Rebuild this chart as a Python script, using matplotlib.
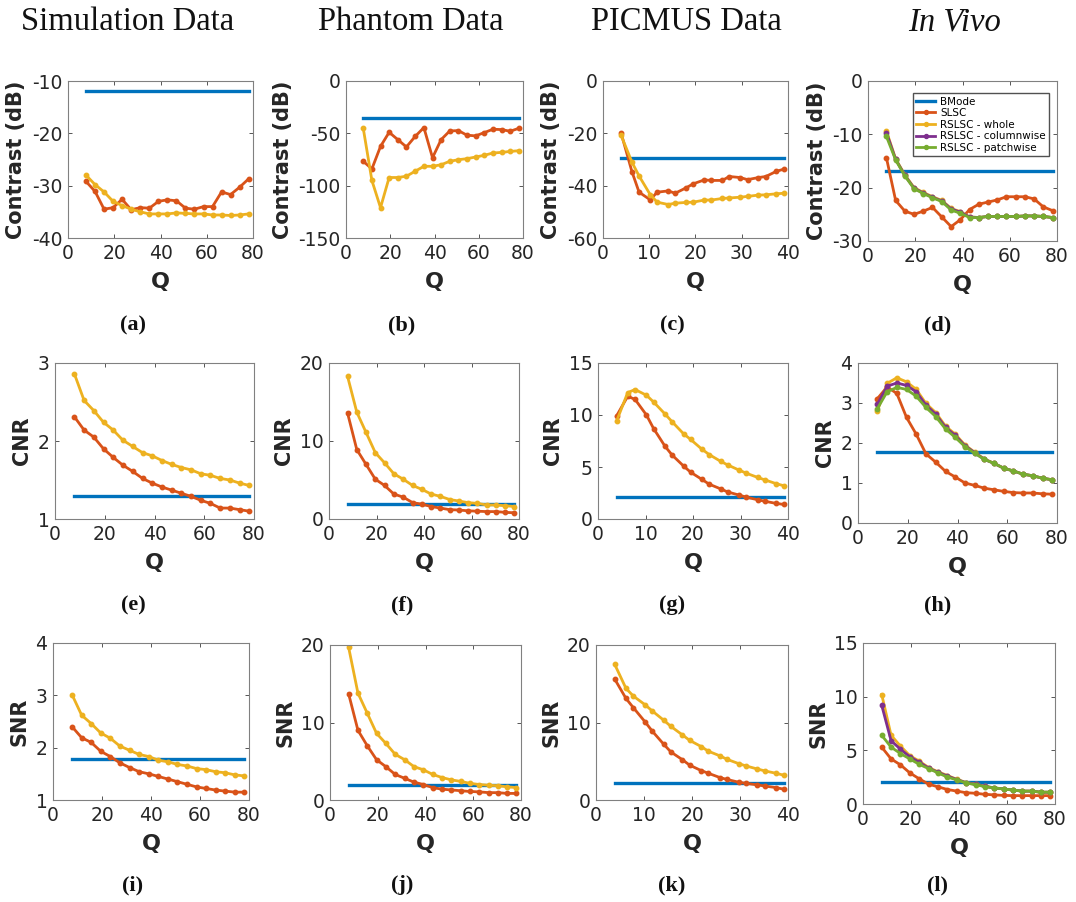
import matplotlib
matplotlib.use("Agg")
import matplotlib.pyplot as plt

plt.rcParams["axes.unicode_minus"] = False

# ---------------- data ----------------
q80 = [7.8, 11.7, 15.6, 19.5, 23.4, 27.3, 31.25, 35.2, 39.1, 43.0, 46.9, 50.8,
       54.7, 58.6, 62.5, 66.4, 70.3, 74.2, 78.1]
q40 = [3.9, 6.25, 7.8, 10.2, 11.7, 14.1, 15.6, 18.0, 19.5, 21.9, 23.4, 25.8,
       27.3, 29.7, 31.25, 33.6, 35.2, 37.5, 39.1]

# Contrast (dB)
sim_con_bmode = -12.0
sim_con_slsc = [-29.2, -31.1, -34.5, -34.2, -32.6, -34.6, -34.2, -34.3, -33.0, -32.7,
                -32.9, -34.3, -34.5, -34.0, -34.0, -31.2, -31.7, -30.3, -28.7]
sim_con_whole = [-28.0, -29.8, -31.2, -33.0, -33.8, -34.5, -35.0, -35.4, -35.4, -35.4,
                 -35.2, -35.3, -35.4, -35.4, -35.6, -35.6, -35.7, -35.6, -35.4]

pha_con_bmode = -35.0
pha_con_slsc = [-76.7, -84.0, -62.5, -49.0, -56.0, -63.0, -53.0, -44.5, -73.3, -56.0,
                -47.7, -47.4, -51.8, -52.4, -49.3, -46.1, -46.4, -48.0, -45.2]
pha_con_whole = [-45.2, -95.0, -121.0, -92.2, -92.2, -91.0, -86.2, -81.5, -81.5, -80.0,
                 -76.7, -75.2, -74.2, -72.6, -71.0, -68.8, -68.2, -67.3, -66.6]

pic_con_bmode = -29.4
pic_con_slsc = [-19.8, -34.6, -42.5, -45.4, -42.5, -42.0, -42.9, -40.8, -39.3, -37.8,
                -38.0, -38.0, -36.5, -36.9, -37.7, -36.9, -36.5, -34.5, -33.7]
pic_con_whole = [-20.7, -31.0, -36.3, -43.4, -46.3, -47.2, -46.7, -46.4, -46.3, -45.5,
                 -45.5, -44.9, -44.7, -44.4, -44.1, -43.6, -43.5, -43.1, -42.9]

viv_con_bmode = -16.8
viv_con_slsc = [-14.4, -22.4, -24.4, -25.0, -24.4, -23.7, -25.5, -27.3, -26.0, -24.1,
                -23.1, -22.7, -22.3, -21.7, -21.7, -21.7, -22.1, -23.6, -24.3]
viv_con_whole = [-9.4, -14.6, -17.6, -20.0, -20.9, -21.7, -22.4, -23.9, -24.5, -25.5,
                 -25.6, -25.4, -25.4, -25.4, -25.4, -25.3, -25.3, -25.4, -25.6]
viv_con_column = [-9.7, -14.7, -17.7, -20.1, -21.0, -21.8, -22.5, -24.0, -24.6, -25.5,
                  -25.6, -25.4, -25.4, -25.4, -25.4, -25.3, -25.3, -25.4, -25.6]
viv_con_patch = [-10.4, -14.8, -17.8, -20.2, -21.1, -21.9, -22.6, -24.2, -24.8, -25.6,
                 -25.6, -25.4, -25.4, -25.4, -25.4, -25.3, -25.3, -25.4, -25.6]

# CNR
sim_cnr_bmode = 1.30
sim_cnr_slsc = [2.31, 2.14, 2.05, 1.90, 1.79, 1.69, 1.61, 1.52, 1.46, 1.41,
                1.37, 1.33, 1.29, 1.24, 1.20, 1.14, 1.14, 1.12, 1.10]
sim_cnr_whole = [2.86, 2.52, 2.39, 2.24, 2.14, 2.01, 1.93, 1.85, 1.81, 1.75,
                 1.70, 1.66, 1.63, 1.58, 1.56, 1.52, 1.50, 1.46, 1.43]

pha_cnr_bmode = 1.9
pha_cnr_slsc = [13.6, 8.9, 7.0, 5.1, 4.3, 3.2, 2.8, 2.1, 1.9, 1.6,
                1.4, 1.2, 1.15, 1.05, 1.0, 0.95, 0.95, 0.85, 0.8]
pha_cnr_whole = [18.3, 13.7, 11.1, 8.5, 7.2, 5.8, 5.1, 4.3, 3.8, 3.2,
                 2.9, 2.5, 2.3, 2.1, 2.0, 1.8, 1.8, 1.7, 1.6]

pic_cnr_bmode = 2.08
pic_cnr_slsc = [9.9, 11.8, 11.5, 10.0, 8.7, 7.0, 6.15, 5.1, 4.5, 3.8,
                3.35, 2.9, 2.6, 2.3, 2.1, 1.85, 1.7, 1.5, 1.4]
pic_cnr_whole = [9.4, 12.15, 12.45, 11.9, 11.25, 10.1, 9.35, 8.2, 7.65, 6.7,
                 6.2, 5.55, 5.2, 4.7, 4.4, 4.0, 3.75, 3.4, 3.2]

viv_cnr_bmode = 1.78
viv_cnr_slsc = [3.11, 3.40, 3.24, 2.64, 2.22, 1.73, 1.52, 1.29, 1.15, 1.00,
                0.94, 0.87, 0.83, 0.79, 0.76, 0.75, 0.75, 0.73, 0.72]
viv_cnr_whole = [2.80, 3.49, 3.63, 3.53, 3.34, 2.99, 2.76, 2.42, 2.22, 1.95,
                 1.77, 1.60, 1.49, 1.37, 1.30, 1.22, 1.18, 1.12, 1.08]
viv_cnr_column = [2.97, 3.42, 3.50, 3.44, 3.28, 2.95, 2.72, 2.39, 2.19, 1.93,
                  1.76, 1.59, 1.49, 1.37, 1.30, 1.22, 1.18, 1.12, 1.08]
viv_cnr_patch = [2.86, 3.28, 3.39, 3.34, 3.17, 2.89, 2.66, 2.35, 2.14, 1.91,
                 1.74, 1.59, 1.49, 1.37, 1.30, 1.22, 1.18, 1.12, 1.08]

# SNR
sim_snr_bmode = 1.775
sim_snr_slsc = [2.40, 2.19, 2.10, 1.93, 1.83, 1.71, 1.62, 1.54, 1.50, 1.45,
                1.40, 1.35, 1.30, 1.25, 1.22, 1.19, 1.17, 1.15, 1.15]
sim_snr_whole = [3.01, 2.62, 2.46, 2.28, 2.18, 2.03, 1.95, 1.87, 1.83, 1.76,
                 1.73, 1.68, 1.65, 1.60, 1.58, 1.54, 1.52, 1.48, 1.46]

pha_snr_bmode = 1.94
pha_snr_slsc = [13.7, 9.0, 7.0, 5.2, 4.3, 3.3, 2.8, 2.3, 2.0, 1.6,
                1.4, 1.3, 1.2, 1.1, 1.05, 0.95, 0.95, 0.85, 0.85]
pha_snr_whole = [19.7, 13.8, 11.2, 8.6, 7.3, 5.9, 5.2, 4.3, 3.9, 3.3,
                 2.9, 2.6, 2.4, 2.15, 2.0, 1.9, 1.85, 1.7, 1.6]

pic_snr_bmode = 2.15
pic_snr_slsc = [15.6, 13.1, 11.9, 10.1, 8.9, 7.2, 6.2, 5.2, 4.5, 3.8,
                3.45, 2.9, 2.65, 2.3, 2.15, 1.95, 1.8, 1.6, 1.4]
pic_snr_whole = [17.5, 14.4, 13.4, 12.3, 11.5, 10.3, 9.5, 8.4, 7.7, 6.9,
                 6.3, 5.7, 5.25, 4.7, 4.4, 4.0, 3.75, 3.45, 3.2]

viv_snr_bmode = 2.04
viv_snr_slsc = [5.3, 4.2, 3.65, 2.9, 2.35, 1.85, 1.6, 1.35, 1.2, 1.05,
                1.0, 0.9, 0.85, 0.8, 0.78, 0.78, 0.78, 0.78, 0.78]
viv_snr_whole = [10.2, 6.4, 5.4, 4.5, 4.0, 3.4, 3.0, 2.65, 2.3, 2.0,
                 1.85, 1.65, 1.5, 1.4, 1.3, 1.2, 1.2, 1.1, 1.1]
viv_snr_column = [9.2, 5.9, 5.1, 4.4, 3.9, 3.35, 2.95, 2.6, 2.28, 1.98,
                  1.83, 1.64, 1.5, 1.4, 1.3, 1.2, 1.2, 1.1, 1.1]
viv_snr_patch = [6.4, 5.3, 4.7, 4.2, 3.7, 3.3, 2.9, 2.5, 2.25, 1.95,
                 1.8, 1.62, 1.5, 1.4, 1.3, 1.2, 1.2, 1.1, 1.1]

col_titles = ["Simulation Data", "Phantom Data", "PICMUS Data", "In Vivo"]
panel_labels = ["(a)", "(b)", "(c)", "(d)", "(e)", "(f)", "(g)", "(h)",
                "(i)", "(j)", "(k)", "(l)"]
legend_labels = ["BMode", "SLSC", "RSLSC - whole", "RSLSC - columnwise", "RSLSC - patchwise"]

# ---------------- style ----------------
C_BLUE = "#0072BD"
C_RED = "#D95319"
C_YEL = "#EDB120"
C_PUR = "#7E2F8E"
C_GRN = "#77AC30"
TXT = "#262626"

W, H = 1076, 902
fig = plt.figure(figsize=(W / 100, H / 100), dpi=100)

def add_ax(l, t, r, b):
    return fig.add_axes([l / W, 1 - b / H, (r - l) / W, (b - t) / H])

# axes pixel boxes (left, top, right, bottom)
boxes = [
    (68, 81, 253, 238), (346, 81, 523, 238), (603, 81, 788, 238), (868, 81, 1057, 241),
    (55, 363, 254, 519), (329, 363, 519, 519), (598, 363, 788, 519), (858, 363, 1057, 523),
    (53, 643, 249, 800), (330, 645, 521, 800), (596, 645, 788, 800), (863, 643, 1055, 804),
]

panels = [
    (q80, sim_con_bmode, [sim_con_slsc, sim_con_whole], (-40, -10), [-40, -30, -20, -10], "Contrast (dB)"),
    (q80, pha_con_bmode, [pha_con_slsc, pha_con_whole], (-150, 0), [-150, -100, -50, 0], "Contrast (dB)"),
    (q40, pic_con_bmode, [pic_con_slsc, pic_con_whole], (-60, 0), [-60, -40, -20, 0], "Contrast (dB)"),
    (q80, viv_con_bmode, [viv_con_slsc, viv_con_whole, viv_con_column, viv_con_patch], (-30, 0), [-30, -20, -10, 0], "Contrast (dB)"),
    (q80, sim_cnr_bmode, [sim_cnr_slsc, sim_cnr_whole], (1, 3), [1, 2, 3], "CNR"),
    (q80, pha_cnr_bmode, [pha_cnr_slsc, pha_cnr_whole], (0, 20), [0, 10, 20], "CNR"),
    (q40, pic_cnr_bmode, [pic_cnr_slsc, pic_cnr_whole], (0, 15), [0, 5, 10, 15], "CNR"),
    (q80, viv_cnr_bmode, [viv_cnr_slsc, viv_cnr_whole, viv_cnr_column, viv_cnr_patch], (0, 4), [0, 1, 2, 3, 4], "CNR"),
    (q80, sim_snr_bmode, [sim_snr_slsc, sim_snr_whole], (1, 4), [1, 2, 3, 4], "SNR"),
    (q80, pha_snr_bmode, [pha_snr_slsc, pha_snr_whole], (0, 20), [0, 10, 20], "SNR"),
    (q40, pic_snr_bmode, [pic_snr_slsc, pic_snr_whole], (0, 20), [0, 10, 20], "SNR"),
    (q80, viv_snr_bmode, [viv_snr_slsc, viv_snr_whole, viv_snr_column, viv_snr_patch], (0, 15), [0, 5, 10, 15], "SNR"),
]

series_colors = [C_RED, C_YEL, C_PUR, C_GRN]

for i, (box, (x, bm, series, ylim, yticks, ylab)) in enumerate(zip(boxes, panels)):
    ax = add_ax(*box)
    ax.plot([x[0], x[-1]], [bm, bm], color=C_BLUE, lw=2.4, label=legend_labels[0])
    for j, s in enumerate(series):
        ax.plot(x, s, color=series_colors[j], lw=2.0, marker="o", ms=3.2,
                label=legend_labels[j + 1])
    ax.set_ylim(*ylim)
    ax.set_yticks(yticks)
    if x is q40:
        ax.set_xlim(0, 40)
        ax.set_xticks([0, 10, 20, 30, 40])
    else:
        ax.set_xlim(0, 80)
        ax.set_xticks([0, 20, 40, 60, 80])
    ax.tick_params(direction="in", length=3, width=0.7, labelsize=13.5,
                   colors="#555555", labelcolor=TXT, top=True, right=True, pad=4)
    for sp in ax.spines.values():
        sp.set_color("#808080")
        sp.set_linewidth(0.8)
    ax.set_xlabel("Q", fontsize=16, fontweight="bold", color=TXT, labelpad=7)
    ax.set_ylabel(ylab, fontsize=15, fontweight="bold", color=TXT, labelpad=4)
    if i == 3:
        ax.legend(loc="upper right", bbox_to_anchor=(0.985, 0.955), fontsize=7.5,
                  frameon=True, fancybox=False, edgecolor="#262626",
                  handlelength=1.8, borderpad=0.3, labelspacing=0.15,
                  handletextpad=0.5, markerscale=0.9)

# column titles
title_x = [128, 411, 686, 955]
for k, (tx, tt) in enumerate(zip(title_x, col_titles)):
    fig.text(tx / W, 1 - 22 / H, tt, ha="center", va="center",
             fontsize=23.5, family="Liberation Serif", color="#111111",
             style="italic" if k == 3 else "normal")

# panel labels
lab_x = [133, 402, 672, 938]
lab_y = [325, 605, 885]
for i, lab in enumerate(panel_labels):
    r, c = divmod(i, 4)
    fig.text(lab_x[c] / W, 1 - lab_y[r] / H, lab, ha="center", va="center",
             fontsize=16, fontweight="bold", family="Liberation Serif", color="#111111")

fig.savefig("out.png", dpi=100, facecolor="white")
